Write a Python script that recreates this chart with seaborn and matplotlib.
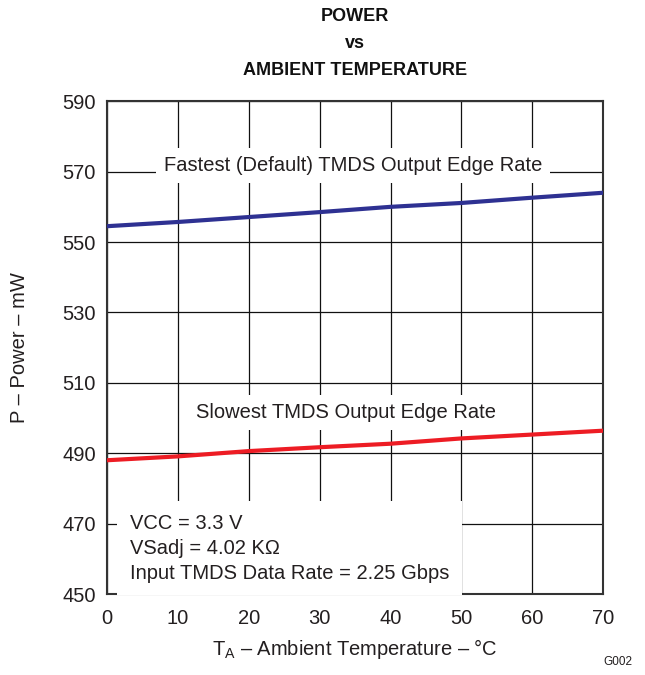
import numpy as np
import pandas as pd
import matplotlib
matplotlib.use("Agg")
import matplotlib.pyplot as plt
import seaborn as sns

# ── DATA ──────────────────────────────────────────────────────────────────────
temp_c = [0, 10, 20, 30, 40, 50, 60, 70]
power_fastest = [554.5, 555.7, 557.1, 558.5, 560.0, 561.1, 562.6, 564.0]
power_slowest = [488.0, 489.1, 490.6, 491.7, 492.7, 494.2, 495.3, 496.4]
series_names = ["Fastest (Default) TMDS Output Edge Rate", "Slowest TMDS Output Edge Rate"]
y_ticks = [450, 470, 490, 510, 530, 550, 570, 590]
x_ticks = [0, 10, 20, 30, 40, 50, 60, 70]

df = pd.DataFrame({
    "Temp": temp_c * 2,
    "Power": power_fastest + power_slowest,
    "Series": [series_names[0]] * len(temp_c) + [series_names[1]] * len(temp_c),
})

# ── STYLE ─────────────────────────────────────────────────────────────────────
sns.set_style("white")
plt.rcParams.update({
    "font.family": ["Liberation Sans", "DejaVu Sans"],
    "mathtext.fontset": "custom",
    "mathtext.rm": "Liberation Sans",
    "mathtext.it": "Liberation Sans:italic",
})
TXT = "#231F20"
FS = 14.5

fig = plt.figure(figsize=(6.45, 6.75), dpi=100)
ax = fig.add_axes([0.166, 0.12, 0.769, 0.730])

sns.lineplot(data=df, x="Temp", y="Power", hue="Series",
             palette=["#2E3192", "#ED1C24"], linewidth=3, legend=False, ax=ax, zorder=3)

ax.set_xlim(0, 70)
ax.set_ylim(450, 590)
ax.set_xticks(x_ticks)
ax.set_yticks(y_ticks)
ax.tick_params(axis="y", length=0, labelsize=FS, colors=TXT, pad=8)
ax.tick_params(axis="x", length=0, labelsize=FS, colors=TXT, pad=11)
ax.grid(True, color="#111111", linewidth=0.9)
for s in ax.spines.values():
    s.set_color("#333333")
    s.set_linewidth(1.5)

ax.set_xlabel(r"T$_{\rm A}$ – Ambient Temperature – °C", fontsize=FS, color=TXT, labelpad=6)
ax.set_ylabel("P – Power – mW", fontsize=FS, color=TXT, labelpad=24)

fig.text(0.55, 0.975, "POWER", ha="center", va="center", fontsize=13, fontweight="bold", color="#111111")
fig.text(0.55, 0.936, "vs", ha="center", va="center", fontsize=13, fontweight="bold", color="#111111")
fig.text(0.55, 0.896, "AMBIENT TEMPERATURE", ha="center", va="center", fontsize=13, fontweight="bold", color="#111111")

box = dict(facecolor="white", edgecolor="none", pad=6)
ax.text(34.7, 571.8, series_names[0], ha="center", va="center", fontsize=FS,
        color=TXT, bbox=box, zorder=4)
ax.text(33.7, 501.6, series_names[1], ha="center", va="center", fontsize=FS,
        color=TXT, bbox=box, zorder=4)
ax.text(3.2, 463.0, "VCC = 3.3 V\nVSadj = 4.02 KΩ\nInput TMDS Data Rate = 2.25 Gbps",
        ha="left", va="center", fontsize=FS, color=TXT, linespacing=1.4,
        bbox=dict(facecolor="white", edgecolor="none", pad=9), zorder=4)

fig.text(0.98, 0.019, "G002", ha="right", va="center", fontsize=8.5, color=TXT)

fig.savefig("out.png", dpi=100)
